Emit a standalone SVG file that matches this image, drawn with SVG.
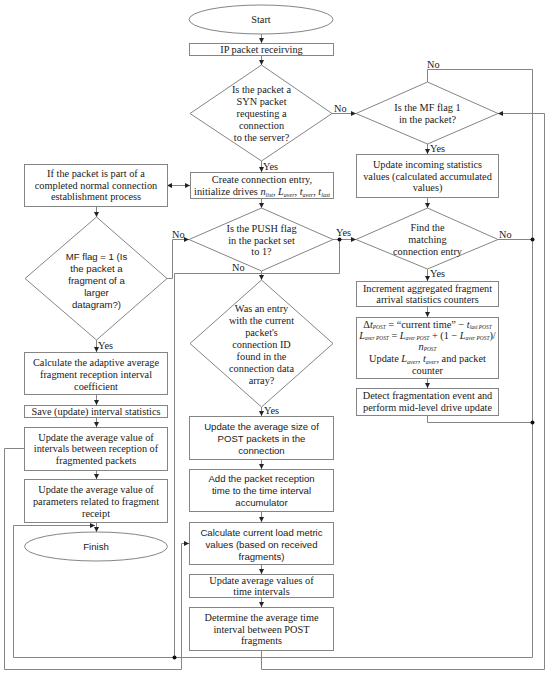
<svg xmlns="http://www.w3.org/2000/svg" width="550" height="675" viewBox="0 0 550 675">
<defs>
<style>
.b{fill:#fff;stroke:#858585;stroke-width:1}
.c{fill:none;stroke:#858585;stroke-width:1}
.t{font-family:"Liberation Serif",serif;font-size:10.3px;fill:#1a1a1a;text-anchor:middle}
.ts{font-family:"Liberation Sans",sans-serif;font-size:9.6px;fill:#1a1a1a;text-anchor:middle}
.l{font-family:"Liberation Serif",serif;font-size:10.3px;fill:#1a1a1a}
.i{font-style:italic}
.sub{font-size:6px;font-style:italic}
.sm{font-size:5.4px;font-style:italic}
.dot{fill:#111}
</style>
<marker id="ah" viewBox="0 0 6 6" refX="6" refY="3" markerWidth="5" markerHeight="5" orient="auto-start-reverse" markerUnits="userSpaceOnUse"><path d="M0,0 L6,3 L0,6 z" fill="#222"/></marker>
</defs>
<rect width="550" height="675" fill="#fff"/>

<g id="connectors" class="c">
<path d="M261.5,34 V43" marker-end="url(#ah)"/>
<path d="M261.5,55 V65" marker-end="url(#ah)"/>
<path d="M261.5,161 V172" marker-end="url(#ah)"/>
<path d="M332,113.5 H356" marker-end="url(#ah)"/>
<path d="M427.5,144 V154" marker-end="url(#ah)"/>
<path d="M427.5,82 V69.5 H532.5 V657.5 H13.5 V525.5 H95" marker-end="url(#ah)"/>
<path d="M427.5,197 V208" marker-end="url(#ah)"/>
<path d="M498,239.5 H532.5"/>
<path d="M427.5,269 V281" marker-end="url(#ah)"/>
<path d="M427.5,306 V317" marker-end="url(#ah)"/>
<path d="M427.5,378 V388" marker-end="url(#ah)"/>
<path d="M427.5,415 V422.5 H532.5"/>
<path d="M167,185.5 H190" marker-start="url(#ah)" marker-end="url(#ah)"/>
<path d="M261.5,198 V208" marker-end="url(#ah)"/>
<path d="M167,278.5 H172.5 V239.5 H189" marker-end="url(#ah)"/>
<path d="M333,239.5 H356" marker-end="url(#ah)"/>
<path d="M261.5,271 V280" marker-end="url(#ah)"/>
<path d="M339.5,239.5 V273.5 H174.5 V657.5"/>
<path d="M96.5,206 V217" marker-end="url(#ah)"/>
<path d="M96.5,340 V352" marker-end="url(#ah)"/>
<path d="M96.5,394 V405" marker-end="url(#ah)"/>
<path d="M96.5,417 V427" marker-end="url(#ah)"/>
<path d="M96.5,470 V479" marker-end="url(#ah)"/>
<path d="M96.5,522 V532" marker-end="url(#ah)"/>
<path d="M24,448.5 H4.5 V669.5 H181.5 V543.5 H189" marker-end="url(#ah)"/>
<path d="M261.5,407 V416" marker-end="url(#ah)"/>
<path d="M261.5,459 V469" marker-end="url(#ah)"/>
<path d="M261.5,511 V522" marker-end="url(#ah)"/>
<path d="M261.5,564 V574" marker-end="url(#ah)"/>
<path d="M261.5,597 V607" marker-end="url(#ah)"/>
<path d="M261.5,650 V669.5 H544.5 V113.5 H498" marker-end="url(#ah)"/>
<circle class="dot" cx="532.5" cy="239.5" r="2" stroke="none"/>
<circle class="dot" cx="532.5" cy="422.5" r="2" stroke="none"/>
<circle class="dot" cx="339.5" cy="239.5" r="2" stroke="none"/>
<circle class="dot" cx="174.5" cy="657.5" r="2" stroke="none"/>
</g>

<g id="labels">
<text class="l" x="263" y="170">Yes</text>
<text class="l" x="334" y="112">No</text>
<text class="l" x="427" y="68">No</text>
<text class="l" x="430" y="152">Yes</text>
<text class="l" x="499" y="238">No</text>
<text class="l" x="430" y="277">Yes</text>
<text class="l" x="336" y="236">Yes</text>
<text class="l" x="172" y="238">No</text>
<text class="l" x="232" y="271">No</text>
<text class="l" x="98" y="349">Yes</text>
<text class="l" x="264" y="414">Yes</text>
</g>

<g id="start">
<ellipse class="b" cx="261" cy="19.5" rx="72" ry="14.5"/>
<text class="t" x="261" y="23">Start</text>
</g>

<g id="ip-receive">
<rect class="b" x="189.5" y="43.5" width="144" height="12"/>
<text class="t" x="261.5" y="53">IP packet receirving</text>
</g>

<g id="syn-check">
<polygon class="b" points="261.5,65 332,113.5 261.5,161 190,113.5"/>
<text class="t" x="261.5" y="93">Is the packet a</text>
<text class="t" x="261.5" y="105">SYN packet</text>
<text class="t" x="261.5" y="117">requesting a</text>
<text class="t" x="261.5" y="129">connection</text>
<text class="t" x="261.5" y="141">to the server?</text>
</g>

<g id="mf-flag-check">
<polygon class="b" points="427.5,82 498,113.5 427.5,144 356,113.5"/>
<text class="t" x="427.5" y="111">Is the MF flag 1</text>
<text class="t" x="427.5" y="123">in the packet?</text>
</g>

<g id="update-incoming">
<rect class="b" x="356.5" y="154.5" width="142" height="43"/>
<text class="t" x="427.5" y="168">Update incoming statistics</text>
<text class="t" x="427.5" y="179.5">values (calculated accumulated</text>
<text class="t" x="427.5" y="191">values)</text>
</g>

<g id="find-entry">
<polygon class="b" points="427.5,208 498,239.5 427.5,269 356,239.5"/>
<text class="t" x="427.5" y="231">Find the</text>
<text class="t" x="427.5" y="243">matching</text>
<text class="t" x="427.5" y="255">connection entry</text>
</g>

<g id="increment-counters">
<rect class="b" x="356.5" y="281.5" width="142" height="25"/>
<text class="t" x="427.5" y="291.5">Increment aggregated fragment</text>
<text class="t" x="427.5" y="302.5">arrival statistics counters</text>
</g>

<g id="delta-update">
<rect class="b" x="356.5" y="317.5" width="142" height="61"/>
<text class="t" x="427.5" y="327.5">Δ<tspan class="i">t</tspan><tspan class="sm" baseline-shift="-1.2">POST</tspan> = “current time” − <tspan class="i">t</tspan><tspan class="sm" baseline-shift="-1.2">last POST</tspan></text>
<text class="t" x="427.5" y="338.5" font-size="9.8px"><tspan class="i">L</tspan><tspan class="sm" baseline-shift="-1.2">aver POST</tspan> = <tspan class="i">L</tspan><tspan class="sm" baseline-shift="-1.2">aver POST</tspan> + (1 − <tspan class="i">L</tspan><tspan class="sm" baseline-shift="-1.2">aver POST</tspan>)/</text>
<text class="t" x="427.5" y="349.5"><tspan class="i">n</tspan><tspan class="sm" baseline-shift="-1.2">POST</tspan></text>
<text class="t" x="427.5" y="362">Update <tspan class="i">L</tspan><tspan class="sub" baseline-shift="-1.5">aver</tspan>, <tspan class="i">t</tspan><tspan class="sub" baseline-shift="-1.5">aver</tspan>, and packet</text>
<text class="t" x="427.5" y="374">counter</text>
</g>

<g id="detect-fragmentation">
<rect class="b" x="356.5" y="388.5" width="142" height="27"/>
<text class="t" x="427.5" y="398.5">Detect fragmentation event and</text>
<text class="t" x="427.5" y="411">perform mid-level drive update</text>
</g>

<g id="completed-connection">
<rect class="b" x="24.5" y="164.5" width="143" height="42"/>
<text class="t" x="96" y="177">If the packet is part of a</text>
<text class="t" x="96" y="188.5">completed normal connection</text>
<text class="t" x="96" y="200">establishment process</text>
</g>

<g id="create-entry">
<rect class="b" x="190.5" y="172.5" width="143" height="26"/>
<text class="t" x="262" y="183">Create connection entry,</text>
<text class="t" x="262" y="194.5">initialize drives <tspan class="i">n</tspan><tspan class="sub" baseline-shift="-1.5">list</tspan>, <tspan class="i">L</tspan><tspan class="sub" baseline-shift="-1.5">aver</tspan>, <tspan class="i">t</tspan><tspan class="sub" baseline-shift="-1.5">aver</tspan>, <tspan class="i">t</tspan><tspan class="sub" baseline-shift="-1.5">last</tspan></text>
</g>

<g id="push-check">
<polygon class="b" points="261.5,208 333,239.5 261.5,271 189,239.5"/>
<text class="t" x="261.5" y="232">Is the PUSH flag</text>
<text class="t" x="261.5" y="243.5">in the packet set</text>
<text class="t" x="261.5" y="255">to 1?</text>
</g>

<g id="mf-fragment-check">
<polygon class="b" points="96.5,217 167,278.5 96.5,340 25,278.5"/>
<text class="ts" x="96.5" y="260">MF flag = 1 (Is</text>
<text class="ts" x="96.5" y="272">the packet a</text>
<text class="ts" x="96.5" y="284">fragment of a</text>
<text class="ts" x="96.5" y="296">larger</text>
<text class="ts" x="96.5" y="308">datagram?)</text>
</g>

<g id="entry-found-check">
<polygon class="b" points="261.5,280 333,343.5 261.5,407 190,343.5"/>
<text class="t" x="261.5" y="312">Was an entry</text>
<text class="t" x="261.5" y="324">with the current</text>
<text class="t" x="261.5" y="336">packet's</text>
<text class="t" x="261.5" y="348">connection ID</text>
<text class="t" x="261.5" y="360">found in the</text>
<text class="t" x="261.5" y="372">connection data</text>
<text class="t" x="261.5" y="384">array?</text>
</g>

<g id="adaptive-coefficient">
<rect class="b" x="24.5" y="352.5" width="143" height="42"/>
<text class="t" x="96" y="366">Calculate the adaptive average</text>
<text class="t" x="96" y="378">fragment reception interval</text>
<text class="t" x="96" y="389.5">coefficient</text>
</g>

<g id="save-statistics">
<rect class="b" x="24.5" y="405.5" width="143" height="12"/>
<text class="t" x="96" y="415">Save (update) interval statistics</text>
</g>

<g id="update-intervals">
<rect class="b" x="24.5" y="427.5" width="143" height="43"/>
<text class="t" x="96" y="440.5">Update the average value of</text>
<text class="t" x="96" y="452">intervals between reception of</text>
<text class="t" x="96" y="463.5">fragmented packets</text>
</g>

<g id="update-parameters">
<rect class="b" x="24.5" y="479.5" width="143" height="43"/>
<text class="t" x="96" y="493">Update the average value of</text>
<text class="t" x="96" y="505">parameters related to fragment</text>
<text class="t" x="96" y="516.5">receipt</text>
</g>

<g id="finish">
<ellipse class="b" cx="96" cy="546.5" rx="71.5" ry="14.5"/>
<text class="ts" x="96" y="550">Finish</text>
</g>

<g id="update-post-size">
<rect class="b" x="189.5" y="416.5" width="144" height="43"/>
<text class="ts" x="261.5" y="429.5">Update the average size of</text>
<text class="ts" x="261.5" y="441.5">POST packets in the</text>
<text class="ts" x="261.5" y="453.5">connection</text>
</g>

<g id="add-reception-time">
<rect class="b" x="189.5" y="469.5" width="144" height="42"/>
<text class="ts" x="261.5" y="482">Add the packet reception</text>
<text class="ts" x="261.5" y="494">time to the time interval</text>
<text class="ts" x="261.5" y="505.5">accumulator</text>
</g>

<g id="load-metric">
<rect class="b" x="189.5" y="522.5" width="144" height="42"/>
<text class="ts" x="261.5" y="535.5">Calculate current load metric</text>
<text class="ts" x="261.5" y="548">values (based on received</text>
<text class="ts" x="261.5" y="560">fragments)</text>
</g>

<g id="update-time-intervals">
<rect class="b" x="189.5" y="574.5" width="144" height="23"/>
<text class="t" x="261.5" y="583.5">Update average values of</text>
<text class="t" x="261.5" y="594.5">time intervals</text>
</g>

<g id="post-interval">
<rect class="b" x="189.5" y="607.5" width="144" height="43"/>
<text class="t" x="261.5" y="621">Determine the average time</text>
<text class="t" x="261.5" y="632.5">interval between POST</text>
<text class="t" x="261.5" y="644">fragments</text>
</g>
</svg>
